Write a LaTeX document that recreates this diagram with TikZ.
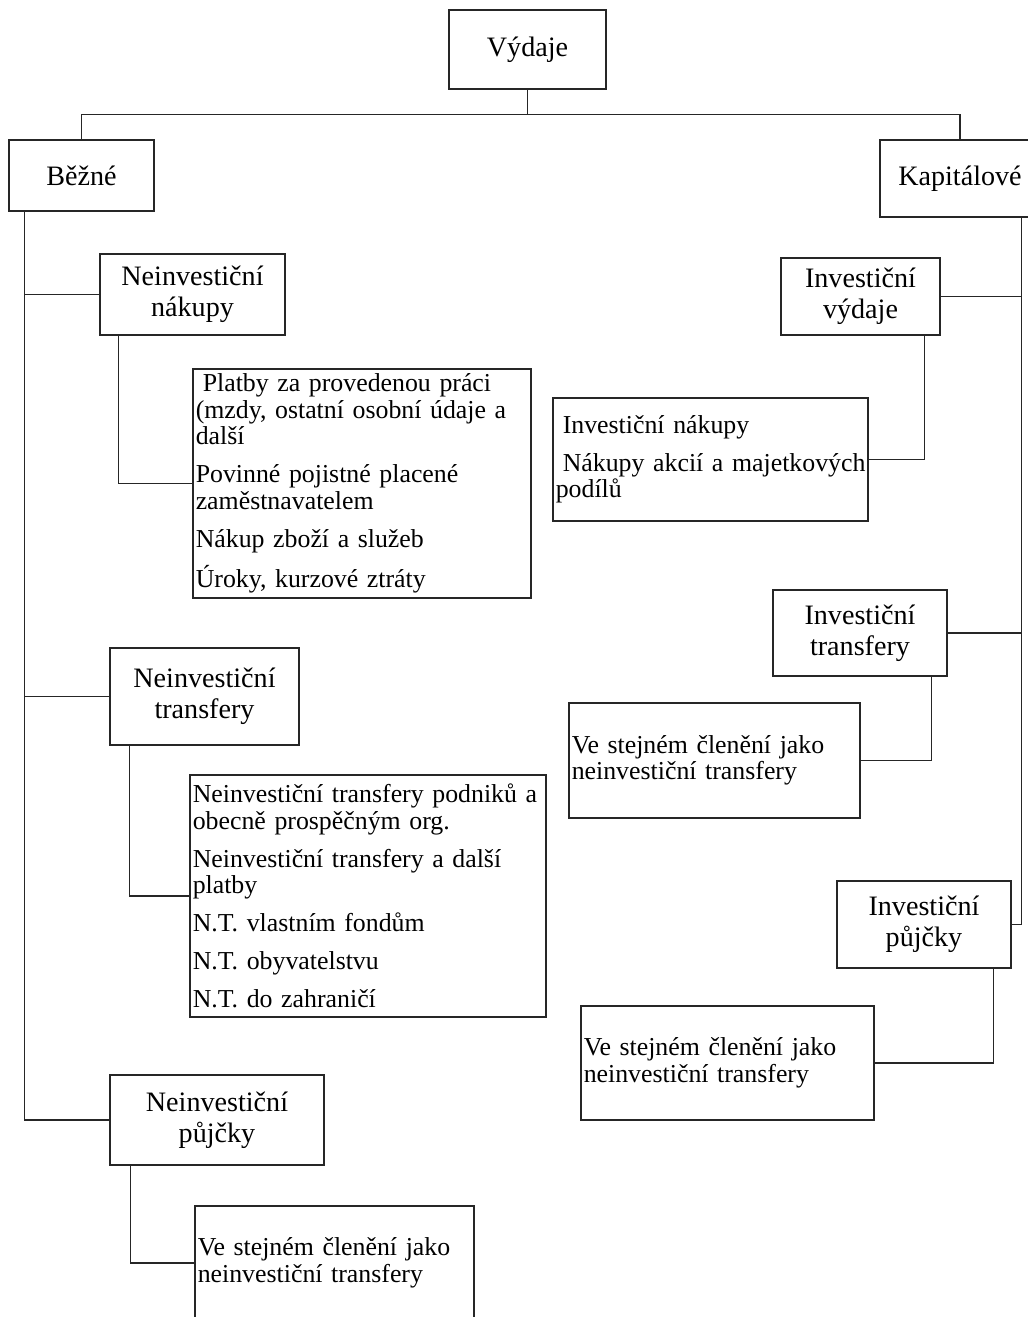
\documentclass[tikz,border=0pt]{standalone}
\usepackage{fontspec}
\setmainfont{Liberation Serif}
\begin{document}
\begin{tikzpicture}[
    box/.style={
        draw=black!85,
        line width=0.75pt,
        align=center,
        inner sep=1pt,
        font=\fontsize{16}{17.5}\selectfont
    },
    listbox/.style={
        draw=black!85,
        line width=0.75pt,
        align=left,
        inner xsep=1.5pt,
        inner ysep=1pt,
        font=\fontsize{14.7}{15.1}\selectfont
    },
    link/.style={draw=black!85, line width=0.75pt}
]
    \useasboundingbox (0,0) rectangle (20.56,-26.34);
    \clip (0,0) rectangle (20.56,-26.34);

    % top levels
    \node[box, minimum width=3.14cm, minimum height=1.58cm] (vyd) at (10.55,-0.99)
        {Výdaje};
    \node[box, minimum width=2.90cm, minimum height=1.42cm] (bez) at (1.63,-3.51)
        {Běžné};
    \node[box, minimum width=3.20cm, minimum height=1.54cm] (kap) at (19.20,-3.57)
        {Kapitálové};

    % bezne
    \node[box, minimum width=3.70cm, minimum height=1.62cm] (nak) at (3.85,-5.89)
        {Neinvestiční\\nákupy};
    \node[listbox, text width=6.65cm, minimum height=4.58cm] (nakL) at (7.24,-9.67)
        {\hspace*{4pt}Platby za provedenou práci\\(mzdy, ostatní osobní údaje a\\další\\[6.5pt]
         Povinné pojistné placené\\zaměstnavatelem\\[6.5pt]
         Nákup zboží a služeb\\[6.5pt]
         Úroky, kurzové ztráty};
    \node[box, minimum width=3.78cm, minimum height=1.94cm] (ntr) at (4.09,-13.93)
        {Neinvestiční\\transfery};
    \node[listbox, text width=7.01cm, minimum height=4.84cm] (ntrL) at (7.36,-17.92)
        {Neinvestiční transfery podniků a\\obecně prospěčným org.\\[6.5pt]
         Neinvestiční transfery a další\\platby\\[6.5pt]
         N.T. vlastním fondům\\[6.5pt]
         N.T. obyvatelstvu\\[6.5pt]
         N.T. do zahraničí};
    \node[box, minimum width=4.28cm, minimum height=1.80cm] (npu) at (4.34,-22.40)
        {Neinvestiční\\půjčky};
    \node[listbox, text width=5.47cm, minimum height=2.28cm] (npuL) at (6.69,-25.26)
        {Ve stejném členění jako\\neinvestiční transfery};

    % kapitalove
    \node[box, minimum width=3.18cm, minimum height=1.54cm] (ivy) at (17.21,-5.93)
        {Investiční\\výdaje};
    \node[listbox, text width=6.19cm, minimum height=2.46cm] (ivyL) at (14.21,-9.19)
        {\hspace*{4pt}Investiční nákupy\\[6pt]
         \hspace*{4pt}\mbox{Nákupy akcií a majetkových}\\podílů};
    \node[box, minimum width=3.48cm, minimum height=1.72cm] (itr) at (17.20,-12.66)
        {Investiční\\transfery};
    \node[listbox, text width=5.71cm, minimum height=2.30cm] (itrL) at (14.29,-15.21)
        {Ve stejném členění jako\\neinvestiční transfery};
    \node[box, minimum width=3.48cm, minimum height=1.74cm] (ipu) at (18.48,-18.49)
        {Investiční\\půjčky};
    \node[listbox, text width=5.75cm, minimum height=2.28cm] (ipuL) at (14.55,-21.26)
        {Ve stejném členění jako\\neinvestiční transfery};

    % connectors
    \draw[link] (vyd.south) -- ++(0,-0.5) -| (bez.north);
    \draw[link] (vyd.south) -- ++(0,-0.5) -| (kap.north);

    \coordinate (ltrunk) at ([xshift=3.2mm]bez.south west);
    \draw[link] (ltrunk) |- (npu.west);
    \draw[link] (nak.west) -- (nak.west -| ltrunk);
    \draw[link] (ntr.west) -- (ntr.west -| ltrunk);
    \draw[link] ([xshift=3.8mm]nak.south west) |- (nakL.west);
    \draw[link] ([xshift=4mm]ntr.south west) |- (ntrL.west);
    \draw[link] ([xshift=4.2mm]npu.south west) |- (npuL.west);

    \coordinate (rtrunk) at ([xshift=-3.8mm]kap.south east);
    \draw[link] (rtrunk) |- (ipu.east);
    \draw[link] (ivy.east) -- (ivy.east -| rtrunk);
    \draw[link] (itr.east) -- (itr.east -| rtrunk);
    \draw[link] ([xshift=-3.2mm]ivy.south east) |- (ivyL.east);
    \draw[link] ([xshift=-3.2mm]itr.south east) |- (itrL.east);
    \draw[link] ([xshift=-3.6mm]ipu.south east) |- (ipuL.east);
\end{tikzpicture}
\end{document}
